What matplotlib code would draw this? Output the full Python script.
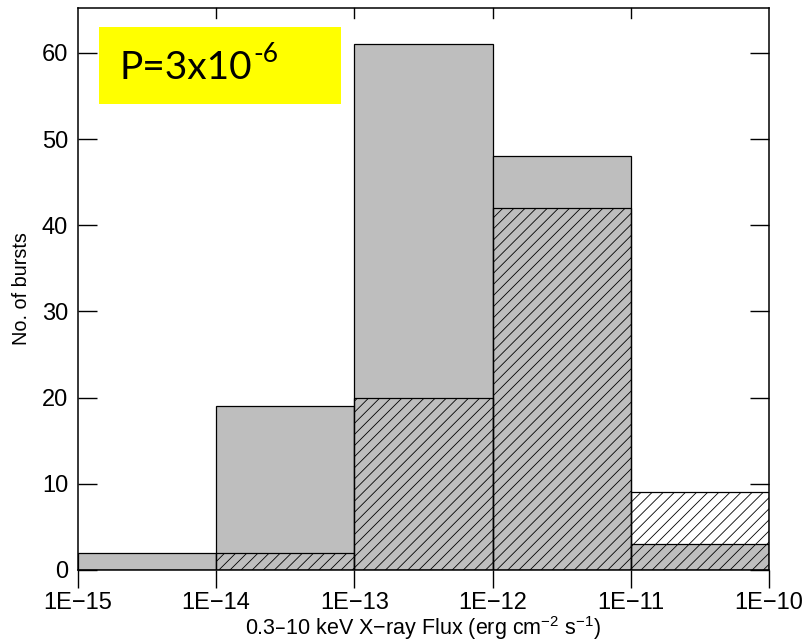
import numpy as np
import matplotlib
matplotlib.use('Agg')
import matplotlib.pyplot as plt
from matplotlib.ticker import FixedLocator, NullLocator

# Bin edges (decades of flux) and counts
bin_edges = [1e-15, 1e-14, 1e-13, 1e-12, 1e-11, 1e-10]
tick_labels = ['1E\u221215', '1E\u221214', '1E\u221213', '1E\u221212', '1E\u221211', '1E\u221210']
all_counts = [2, 19, 61, 48, 3]        # grey filled histogram
hatched_counts = [0, 2, 20, 42, 9]     # hatched histogram

plt.rcParams['font.family'] = ['Liberation Sans', 'DejaVu Sans']
plt.rcParams['hatch.linewidth'] = 0.6

fig = plt.figure(figsize=(8.03, 6.41), dpi=100)
ax = fig.add_axes([0.0971, 0.1108, 0.8606, 0.8767])

left = np.array(bin_edges[:-1])
widths = np.diff(bin_edges)

ax.bar(left, all_counts, width=widths, align='edge', color='#bebebe',
       edgecolor='black', linewidth=0.9, zorder=1)
ax.bar(left, hatched_counts, width=widths, align='edge', facecolor='none',
       edgecolor='black', hatch='///', linewidth=0.9, zorder=2)

ax.set_xscale('log')
ax.set_xlim(1e-15, 1e-10)
ax.set_ylim(0, 65.2)
ax.xaxis.set_major_locator(FixedLocator(bin_edges))
ax.xaxis.set_minor_locator(NullLocator())
ax.set_xticklabels(tick_labels)
ax.set_yticks([0, 10, 20, 30, 40, 50, 60])

ax.tick_params(axis='x', which='major', direction='out', length=13, width=1,
               labelsize=17, pad=3, top=False)
ax.tick_params(axis='y', which='major', direction='in', length=14, width=1,
               labelsize=17, right=True, pad=7)
# short inward ticks along the top spine
for x in bin_edges[1:-1]:
    ax.plot([x, x], [65.2, 65.2 - 1.2], color='black', lw=1, clip_on=False, zorder=3)

for sp in ax.spines.values():
    sp.set_linewidth(1.1)

ax.set_xlabel('0.3\u201310 keV X\u2212ray Flux (erg cm$^{\\mathregular{\u22122}}$ s$^{\\mathregular{\u22121}}$)',
              fontsize=15.5, labelpad=0)
ax.set_ylabel('No. of bursts', fontsize=14.3, labelpad=8)

# yellow annotation box
fig.patches.append(plt.Rectangle((99 / 803, 1 - 104 / 641), 242 / 803, 77 / 641,
                                 transform=fig.transFigure, facecolor='#ffff00',
                                 edgecolor='none', zorder=5))
t = fig.text(120 / 803, 1 - 68 / 641, 'P=3x10', fontsize=28,
             family=['Lato', 'DejaVu Sans'], va='center', ha='left', zorder=6)
fig.canvas.draw()
bb = t.get_window_extent()
fig.text(bb.x1 / 803 + 0.001, 1 - 54 / 641, '-6', fontsize=19,
         family=['Lato', 'DejaVu Sans'], va='center', ha='left', zorder=6)

fig.savefig('out.png', dpi=100)
